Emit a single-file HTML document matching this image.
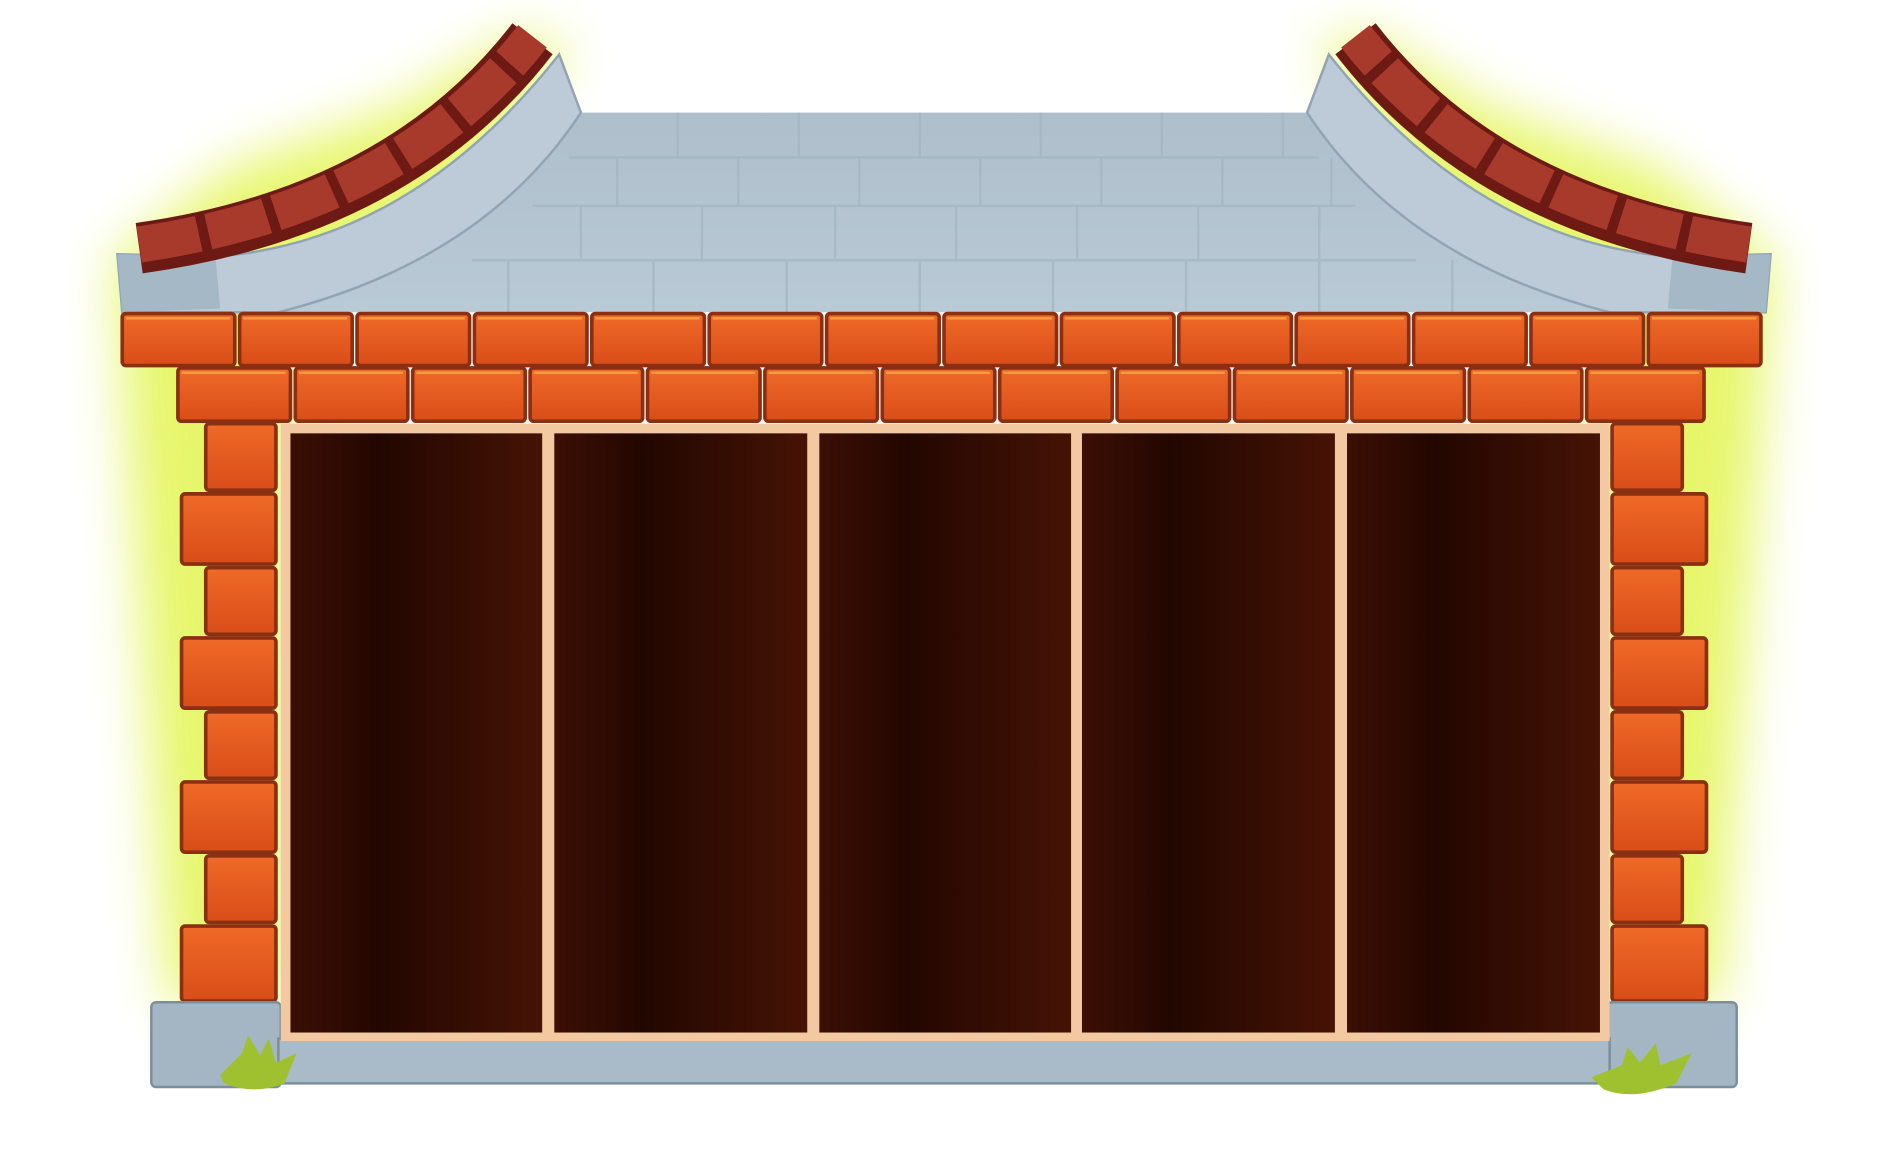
<!DOCTYPE html>
<html><head><meta charset="utf-8"><style>html,body{margin:0;padding:0;background:#fff}svg{display:block}</style></head>
<body>
<svg width="1888" height="1156" viewBox="0 0 1560 955" preserveAspectRatio="none" xmlns="http://www.w3.org/2000/svg">
<defs>
<filter id="blur" x="-50%" y="-20%" width="200%" height="140%"><feGaussianBlur stdDeviation="22"/></filter>
<linearGradient id="pan" x1="0" x2="1" y1="0" y2="0">
<stop offset="0" stop-color="#3c0f05"/><stop offset="0.35" stop-color="#220700"/><stop offset="1" stop-color="#461305"/>
</linearGradient>
<linearGradient id="roof" x1="0" x2="0" y1="0" y2="1">
<stop offset="0" stop-color="#aebfcb"/><stop offset="1" stop-color="#b9cad6"/>
</linearGradient>
<linearGradient id="brick" x1="0" x2="0" y1="0" y2="1">
<stop offset="0" stop-color="#ef6a28"/><stop offset="1" stop-color="#d94d18"/>
</linearGradient>
</defs>
<!-- glow -->
<g filter="url(#blur)" opacity="0.9" fill="#e4f55a">
<path d="M95 215 L190 140 L330 90 L430 30 L470 40 L380 170 L240 250 L235 830 L140 830 Z"/>
<path d="M1465 215 L1370 140 L1230 90 L1130 30 L1090 40 L1180 170 L1320 250 L1325 830 L1420 830 Z"/>
</g>
<!-- roof body -->
<path d="M477 93 L1082 93 Q1150 190 1330 258 L230 258 Q410 190 477 93 Z" fill="url(#roof)"/>
<g stroke="#a3b5c2" stroke-width="2" fill="none" opacity="0.7">
<path d="M470 130 H1090 M440 170 H1120 M390 215 H1170"/>
<path d="M560 93 V130 M660 93 V130 M760 93 V130 M860 93 V130 M960 93 V130 M1060 93 V130 M510 130 V170 M610 130V170 M710 130V170 M810 130V170 M910 130V170 M1010 130V170 M1100 130V170 M480 170V215 M580 170V215 M690 170V215 M790 170V215 M890 170V215 M990 170V215 M1090 170V215 M420 215V258 M540 215V258 M650 215V258 M760 215V258 M870 215V258 M980 215V258 M1090 215V258 M1200 215V258"/>
</g>
<!-- gutters -->
<path d="M97 210 L178 212 Q340 200 462 45 L480 93 Q400 215 230 258 L101 258 Z" fill="#bccbd7" stroke="#90a4b3" stroke-width="2"/>
<path d="M97 210 L178 212 L182 255 L101 258 Z" fill="#a5b8c6"/>
<path d="M1463 210 L1382 212 Q1220 200 1098 45 L1080 93 Q1160 215 1330 258 L1459 258 Z" fill="#bccbd7" stroke="#90a4b3" stroke-width="2"/>
<path d="M1463 210 L1382 212 L1378 255 L1459 258 Z" fill="#a5b8c6"/>
<!-- tiles -->
<g fill="none">
<path d="M115 205 Q330 175 440 32" stroke="#6e1a14" stroke-width="42"/>
<path d="M115 202 Q330 171 440 30" stroke="#a83a2c" stroke-width="30" stroke-dasharray="50 8"/>
<path d="M1445 205 Q1230 175 1120 32" stroke="#6e1a14" stroke-width="42"/>
<path d="M1445 202 Q1230 171 1120 30" stroke="#a83a2c" stroke-width="30" stroke-dasharray="50 8"/>
</g>
<!-- pillars -->
<g fill="url(#brick)" stroke="#8a2f12" stroke-width="3">
<rect x="170" y="350" width="58" height="55" rx="3"/><rect x="150" y="408" width="78" height="58" rx="3"/>
<rect x="170" y="469" width="58" height="55" rx="3"/><rect x="150" y="527" width="78" height="58" rx="3"/>
<rect x="170" y="588" width="58" height="55" rx="3"/><rect x="150" y="646" width="78" height="58" rx="3"/>
<rect x="170" y="707" width="58" height="55" rx="3"/><rect x="150" y="765" width="78" height="62" rx="3"/>
<rect x="1332" y="350" width="58" height="55" rx="3"/><rect x="1332" y="408" width="78" height="58" rx="3"/>
<rect x="1332" y="469" width="58" height="55" rx="3"/><rect x="1332" y="527" width="78" height="58" rx="3"/>
<rect x="1332" y="588" width="58" height="55" rx="3"/><rect x="1332" y="646" width="78" height="58" rx="3"/>
<rect x="1332" y="707" width="58" height="55" rx="3"/><rect x="1332" y="765" width="78" height="62" rx="3"/>
</g>
<!-- brick rows -->
<g fill="url(#brick)" stroke="#8a2f12" stroke-width="3">
<rect x="101" y="259" width="93" height="43" rx="3"/><rect x="198" y="259" width="93" height="43" rx="3"/><rect x="295" y="259" width="93" height="43" rx="3"/><rect x="392" y="259" width="93" height="43" rx="3"/><rect x="489" y="259" width="93" height="43" rx="3"/><rect x="586" y="259" width="93" height="43" rx="3"/><rect x="683" y="259" width="93" height="43" rx="3"/><rect x="780" y="259" width="93" height="43" rx="3"/><rect x="877" y="259" width="93" height="43" rx="3"/><rect x="974" y="259" width="93" height="43" rx="3"/><rect x="1071" y="259" width="93" height="43" rx="3"/><rect x="1168" y="259" width="93" height="43" rx="3"/><rect x="1265" y="259" width="93" height="43" rx="3"/><rect x="1362" y="259" width="93" height="43" rx="3"/>
<rect x="147" y="304" width="93" height="44" rx="3"/><rect x="244" y="304" width="93" height="44" rx="3"/><rect x="341" y="304" width="93" height="44" rx="3"/><rect x="438" y="304" width="93" height="44" rx="3"/><rect x="535" y="304" width="93" height="44" rx="3"/><rect x="632" y="304" width="93" height="44" rx="3"/><rect x="729" y="304" width="93" height="44" rx="3"/><rect x="826" y="304" width="93" height="44" rx="3"/><rect x="923" y="304" width="93" height="44" rx="3"/><rect x="1020" y="304" width="93" height="44" rx="3"/><rect x="1117" y="304" width="93" height="44" rx="3"/><rect x="1214" y="304" width="93" height="44" rx="3"/><rect x="1311" y="304" width="97" height="44" rx="3"/>
</g>
<g stroke="#f6a946" stroke-width="2" fill="none" opacity="0.8">
<path d="M104 263 H190 M201 263 H287 M298 263 H384 M395 263 H481 M492 263 H578 M589 263 H675 M686 263 H772 M783 263 H869 M880 263 H966 M977 263 H1063 M1074 263 H1160 M1171 263 H1257 M1268 263 H1354 M1365 263 H1451"/>
<path d="M150 308 H236 M247 308 H333 M344 308 H430 M441 308 H527 M538 308 H624 M635 308 H721 M732 308 H818 M829 308 H915 M926 308 H1012 M1023 308 H1109 M1120 308 H1206 M1217 308 H1303 M1314 308 H1404"/>
</g>
<!-- base -->
<rect x="125" y="828" width="107" height="70" rx="4" fill="#a4b6c3" stroke="#7c8e9c" stroke-width="2"/>
<rect x="1328" y="828" width="107" height="70" rx="4" fill="#a4b6c3" stroke="#7c8e9c" stroke-width="2"/>
<rect x="230" y="858" width="1100" height="37" fill="#a9bbc8" stroke="#7c8e9c" stroke-width="2"/>
<!-- window -->
<rect x="232" y="350" width="1098" height="510" fill="#f2c9a0"/>
<rect x="240" y="358" width="208" height="495" fill="url(#pan)"/>
<rect x="458" y="358" width="209" height="495" fill="url(#pan)"/>
<rect x="677" y="358" width="208" height="495" fill="url(#pan)"/>
<rect x="894" y="358" width="209" height="495" fill="url(#pan)"/>
<rect x="1113" y="358" width="209" height="495" fill="url(#pan)"/>
<!-- grass -->
<path d="M182 888 L200 870 L205 855 L215 872 L222 858 L228 878 L245 870 L235 895 Q210 905 185 895 Z" fill="#9fc12f"/>
<path d="M1315 890 L1340 880 L1345 865 L1355 878 L1368 862 L1372 880 L1398 870 L1385 895 Q1350 910 1325 900 Z" fill="#9fc12f"/>
</svg>
</body></html>
